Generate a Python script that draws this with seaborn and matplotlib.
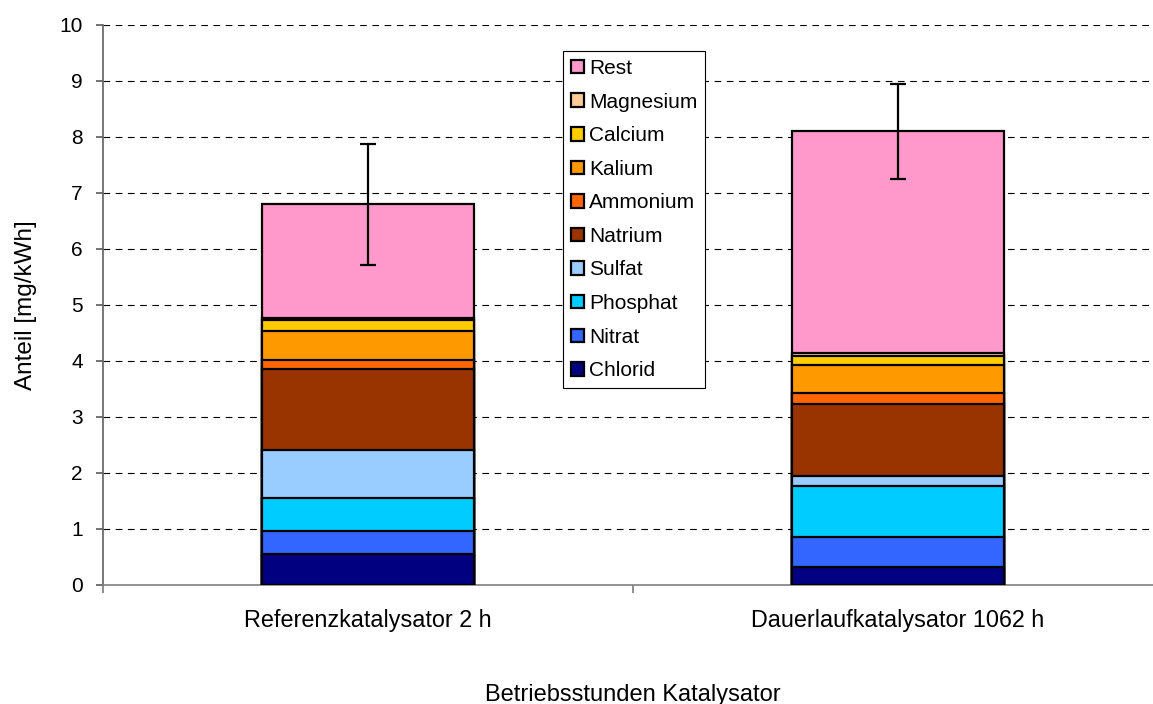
import numpy as np
import pandas as pd
import matplotlib
matplotlib.use("Agg")
import matplotlib.pyplot as plt
import seaborn as sns
from matplotlib.patches import Patch

categories = ["Referenzkatalysator 2 h", "Dauerlaufkatalysator 1062 h"]
components = ["Chlorid", "Nitrat", "Phosphat", "Sulfat", "Natrium",
              "Ammonium", "Kalium", "Calcium", "Magnesium", "Rest"]
chlorid   = [0.55, 0.33]
nitrat    = [0.41, 0.52]
phosphat  = [0.59, 0.91]
sulfat    = [0.86, 0.19]
natrium   = [1.44, 1.29]
ammonium  = [0.16, 0.18]
kalium    = [0.53, 0.51]
calcium   = [0.20, 0.16]
magnesium = [0.03, 0.06]
rest      = [2.03, 3.95]
error     = [1.08, 0.85]

colors = ["#000080", "#3366FF", "#00CCFF", "#99CCFF", "#993300",
          "#FF6600", "#FF9900", "#FFCC00", "#FFCC99", "#FF99CC"]

values = [chlorid, nitrat, phosphat, sulfat, natrium,
          ammonium, kalium, calcium, magnesium, rest]

sns.set_theme(style="white")
plt.rcParams["font.family"] = ["Liberation Sans", "DejaVu Sans"]
plt.rcParams["text.color"] = "black"
plt.rcParams["axes.labelcolor"] = "black"
plt.rcParams["xtick.color"] = "black"
plt.rcParams["ytick.color"] = "black"

fig = plt.figure(figsize=(11.53, 7.04), dpi=100)
ax = fig.add_axes([103/1153, (704-585)/704, 1060/1153, 560/704])

cum = np.cumsum(np.array(values), axis=0)
for i in reversed(range(len(components))):
    df = pd.DataFrame({"cat": categories, "val": cum[i]})
    sns.barplot(data=df, x="cat", y="val", color=colors[i], width=0.4,
                edgecolor="black", linewidth=1.6, saturation=1, ax=ax,
                errorbar=None, zorder=3)

totals = cum[-1]
ax.errorbar(x=np.arange(len(categories)), y=totals, yerr=error, fmt="none",
            ecolor="black", elinewidth=1.6, capsize=5.8, capthick=1.6, zorder=5)

ax.set_xlim(-0.5, 1.5)
ax.set_ylim(0, 10)
ax.set_yticks(range(0, 11))
for yv in range(1, 11):
    ax.axhline(yv, color="black", linestyle=(0, (6, 5)), linewidth=0.8, zorder=1)

ax.spines["top"].set_visible(False)
ax.spines["right"].set_visible(False)
ax.spines["left"].set_color("#606060")
ax.spines["bottom"].set_color("#808080")
ax.spines["left"].set_linewidth(1.2)
ax.spines["bottom"].set_linewidth(1.2)

ax.set_xticks([-0.5, 0.5, 1.5], minor=False)
ax.set_xticklabels([])
ax.set_xticks([0, 1], minor=True)
ax.set_xticklabels(categories, minor=True, fontsize=16.8)
ax.tick_params(axis="x", which="minor", length=0, pad=17)
ax.tick_params(axis="x", which="major", length=6, color="#808080", direction="out")
ax.tick_params(axis="y", length=5, color="#606060", direction="out", labelsize=15, pad=9.5)
ax.tick_params(left=True, bottom=True)

ax.set_xlabel("Betriebsstunden Katalysator", fontsize=17)
ax.xaxis.set_label_coords(0.5, (585-684)/560)
ax.set_ylabel("Anteil [mg/kWh]", fontsize=17.5)
ax.yaxis.set_label_coords((37-103)/1060, 0.5)

handles = [Patch(facecolor=colors[i], edgecolor="black", linewidth=1.6, label=components[i])
           for i in reversed(range(len(components)))]
leg = ax.legend(handles=handles, loc="upper left",
                bbox_to_anchor=((563-103)/1060, (585-51)/560),
                frameon=True, fancybox=False, edgecolor="black", framealpha=1,
                fontsize=15, handlelength=0.62, handleheight=0.62,
                handletextpad=0.25, labelspacing=0.7, borderpad=0.38,
                borderaxespad=0)
leg.get_frame().set_linewidth(0.8)
leg.set_zorder(10)

fig.savefig("out.png", dpi=100)
